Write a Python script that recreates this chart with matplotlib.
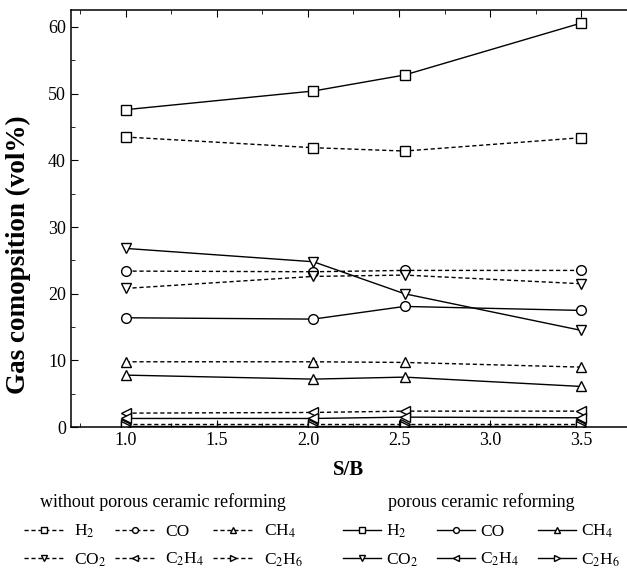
import matplotlib
matplotlib.use('Agg')
import matplotlib.pyplot as plt
from matplotlib.ticker import MultipleLocator

plt.rcParams['font.family'] = ['Liberation Serif', 'DejaVu Serif']
plt.rcParams['mathtext.fontset'] = 'stix'

# S/B ratio
sb = [1.0, 2.03, 2.53, 3.5]

# without porous ceramic reforming (dashed)
h2_wo = [43.5, 41.9, 41.4, 43.4]
co_wo = [23.4, 23.3, 23.5, 23.5]
ch4_wo = [9.8, 9.8, 9.7, 9.0]
co2_wo = [20.8, 22.6, 22.8, 21.5]
c2h4_wo = [2.1, 2.2, 2.4, 2.4]
c2h6_wo = [0.5, 0.5, 0.5, 0.5]

# porous ceramic reforming (solid)
h2_pc = [47.6, 50.4, 52.8, 60.6]
co_pc = [16.4, 16.2, 18.1, 17.5]
ch4_pc = [7.8, 7.2, 7.5, 6.1]
co2_pc = [26.8, 24.8, 20.0, 14.5]
c2h4_pc = [1.3, 1.3, 1.5, 1.4]
c2h6_pc = [0.2, 0.2, 0.2, 0.2]

names = ['H$_2$', 'CO', 'CH$_4$', 'CO$_2$', 'C$_2$H$_4$', 'C$_2$H$_6$']
markers = ['s', 'o', '^', 'v', '<', '>']
wo = [h2_wo, co_wo, ch4_wo, co2_wo, c2h4_wo, c2h6_wo]
pc = [h2_pc, co_pc, ch4_pc, co2_pc, c2h4_pc, c2h6_pc]

fig = plt.figure(figsize=(6.27, 5.68), dpi=100)
ax = fig.add_axes([0.113, 0.248, 0.887, 0.735])

h_wo = []
h_pc = []
for name, m, y1, y2 in zip(names, markers, wo, pc):
    l1, = ax.plot(sb, y1, linestyle=(0, (3, 2)), color='black', lw=1.0,
                  marker=m, ms=7, mfc='white', mec='black', mew=1.0, label=name)
    l2, = ax.plot(sb, y2, linestyle='-', color='black', lw=1.0,
                  marker=m, ms=7, mfc='white', mec='black', mew=1.0, label=name)
    h_wo.append(l1)
    h_pc.append(l2)

ax.set_xlim(0.7, 3.75)
ax.set_ylim(0, 62.6)
ax.xaxis.set_major_locator(MultipleLocator(0.5))
ax.xaxis.set_minor_locator(MultipleLocator(0.25))
ax.yaxis.set_major_locator(MultipleLocator(10))
ax.yaxis.set_minor_locator(MultipleLocator(5))
ax.xaxis.set_major_formatter(plt.FormatStrFormatter('%.1f'))
ax.tick_params(which='both', direction='in', top=True, right=False, labelsize=13)
ax.tick_params(which='major', length=5)
ax.tick_params(which='minor', length=3)
ax.spines['right'].set_visible(False)
for s in ['left', 'bottom', 'top']:
    ax.spines[s].set_linewidth(1.1)

ax.set_xlabel('S/B', fontsize=15, fontweight='bold', labelpad=8)
ax.set_ylabel('Gas comopsition (vol%)', fontsize=19.5, fontweight='bold')
ax.yaxis.set_label_coords(-0.072, 0.412)

order = [0, 3, 1, 4, 2, 5]
leg1 = fig.legend([h_wo[i] for i in order], [names[i] for i in order], ncol=3,
                  title='without porous ceramic reforming', frameon=False,
                  loc='upper left', bbox_to_anchor=(0.038, 0.131),
                  fontsize=12.5, title_fontsize=13, markerscale=0.6,
                  handlelength=2.3, handletextpad=0.6, columnspacing=0.5,
                  labelspacing=0.65, borderpad=0.0, borderaxespad=0.0)
leg2 = fig.legend([h_pc[i] for i in order], [names[i] for i in order], ncol=3,
                  title='porous ceramic reforming', frameon=False,
                  loc='upper left', bbox_to_anchor=(0.547, 0.131),
                  fontsize=12.5, title_fontsize=13, markerscale=0.6,
                  handlelength=2.2, handletextpad=0.3, columnspacing=1.05,
                  labelspacing=0.65, borderpad=0.0, borderaxespad=0.0)

fig.savefig('out.png', dpi=100)
